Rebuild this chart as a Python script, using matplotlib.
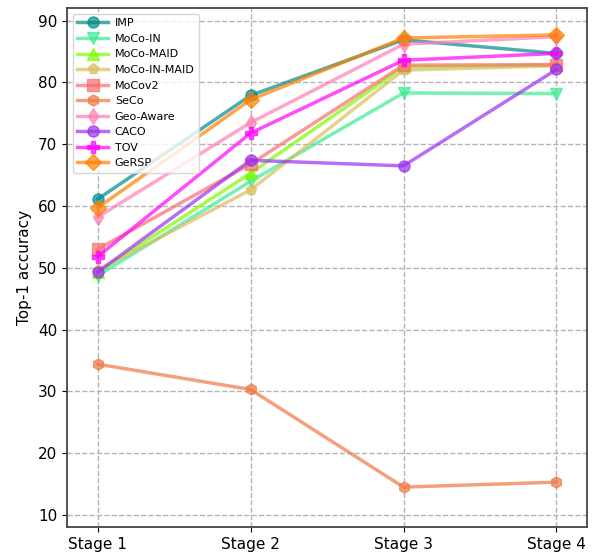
import matplotlib
matplotlib.use("Agg")

import matplotlib.pyplot as plt

# 데이터
stages = ["Stage 1", "Stage 2", "Stage 3", "Stage 4"]
methods = ["IMP", "MoCo-IN", "MoCo-MAID", "MoCo-IN-MAID", "MoCov2",
           "SeCo", "Geo-Aware", "CACO", "TOV", "GeRSP"]

imp = [61.1, 77.9, 86.9, 84.7]
moco_in = [48.7, 64.0, 78.3, 78.2]
moco_maid = [49.3, 65.3, 82.5, 82.8]
moco_in_maid = [49.6, 62.6, 82.0, 82.7]
mocov2 = [53.0, 66.8, 82.8, 82.9]
seco = [34.4, 30.3, 14.5, 15.3]
geo_aware = [58.2, 73.5, 86.2, 87.4]
caco = [49.3, 67.4, 66.5, 82.1]
tov = [51.8, 71.8, 83.6, 84.7]
gersp = [59.7, 77.2, 87.2, 87.7]

series = [imp, moco_in, moco_maid, moco_in_maid, mocov2,
          seco, geo_aware, caco, tov, gersp]

# 스타일
colors = ["#008b8b", "#3cec94", "#7cfc00", "#d8c060", "#fa6e6e",
          "#ee7a45", "#ff7fb5", "#9b30ef", "#ff00ff", "#ff7f00"]
markers = ["o", "v", "^", "p", "s", "h", "d", "o", "P", "D"]

fig = plt.figure(figsize=(5.93, 5.55), dpi=100)
ax = fig.add_axes([0.113, 0.05, 0.877, 0.935])

x = list(range(len(stages)))
for name, vals, c, m in zip(methods, series, colors, markers):
    ax.plot(x, vals, color=c, marker=m, markersize=8, linewidth=2.5,
            alpha=0.7, label=name)

ax.set_xticks(x)
ax.set_xticklabels(stages, fontsize=11)
ax.set_xlim(-0.2, 3.2)
ax.set_ylim(8, 92)
ax.set_yticks([10, 20, 30, 40, 50, 60, 70, 80, 90])
ax.tick_params(axis="y", labelsize=11)
ax.set_ylabel("Top-1 accuracy", fontsize=11)
ax.grid(True, linestyle="--", color="#b4b4b4", linewidth=1)
ax.set_axisbelow(True)
for s in ax.spines.values():
    s.set_color("#444444")
    s.set_linewidth(1.3)

ax.legend(loc="upper left", fontsize=8, handlelength=2.8, handletextpad=0.6)

plt.savefig("out.png", dpi=100)
plt.close()
